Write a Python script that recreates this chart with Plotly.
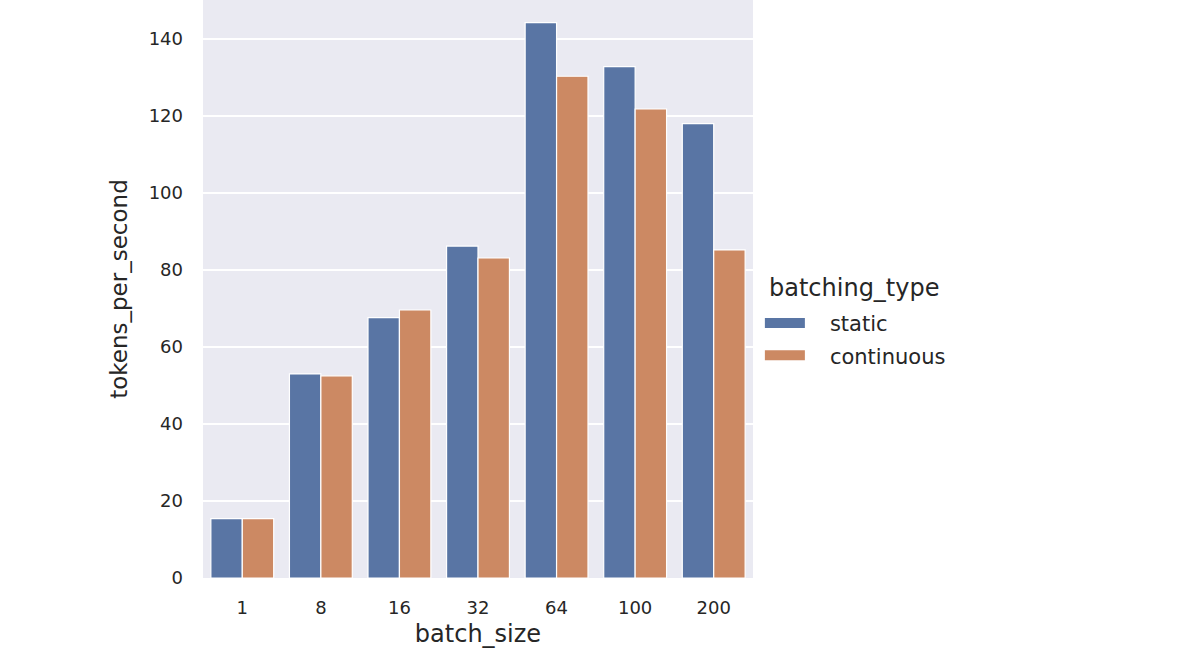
import plotly.graph_objects as go

# data
batch_sizes = ['1', '8', '16', '32', '64', '100', '200']
static_tps = [15.4, 53.0, 67.6, 86.2, 144.2, 132.8, 118.0]
continuous_tps = [15.4, 52.5, 69.6, 83.1, 130.3, 121.8, 85.2]

series_names = ['static', 'continuous']
series_colors = ['#5975A4', '#CC8963']  # seaborn deep, desaturated like barplot

fig = go.Figure()

for i, (name, vals) in enumerate(zip(series_names, [static_tps, continuous_tps])):
    fig.add_trace(go.Bar(
        x=batch_sizes,
        y=vals,
        name=name,
        legendgroup=name,
        showlegend=False,
        marker=dict(color=series_colors[i], line=dict(color='white', width=1.2)),
    ))
    # wide flat patch for the legend, like the seaborn one
    fig.add_trace(go.Scatter(
        x=[None], y=[None],
        mode='lines',
        name='\u00a0\u00a0\u00a0' + name,  # nbsp pads the gap after the patch
        legendgroup=name,
        line=dict(color=series_colors[i], width=11),
    ))

font_family = 'DejaVu Sans'
text_color = '#262626'

fig.update_layout(
    width=1200,
    height=648,
    margin=dict(l=203, r=447, t=0, b=70),
    paper_bgcolor='white',
    plot_bgcolor='#EAEAF2',
    font=dict(family=font_family, color=text_color, size=18),
    barmode='group',
    bargap=0.2,
    bargroupgap=0,
    showlegend=True,
    legend=dict(
        font=dict(size=21),
        x=1.0125,
        xanchor='left',
        y=0.476,
        yanchor='top',
        tracegroupgap=2,
        itemwidth=40,
        bgcolor='rgba(0,0,0,0)',
    ),
    annotations=[dict(
        text='batching_type',
        x=1.025, xref='paper', xanchor='left',
        y=0.502, yref='paper', yanchor='middle',
        showarrow=False,
        font=dict(size=24),
    )],
    xaxis=dict(
        title=dict(text='batch_size', font=dict(size=24), standoff=15),
        automargin=False,
        showgrid=False,
        zeroline=False,
        ticks='',
        ticklabelstandoff=17,
        tickfont=dict(size=18),
    ),
    yaxis=dict(
        title=dict(text='tokens_per_second', font=dict(size=23), standoff=14),
        automargin=False,
        range=[0, 150.1],
        tickvals=[0, 20, 40, 60, 80, 100, 120, 140],
        gridcolor='white',
        gridwidth=1.5,
        zeroline=False,
        ticks='',
        ticklabelstandoff=19,
        tickfont=dict(size=18),
    ),
)

# drop the default 8px body margin so the figure sits at the page corner
fig.write_html("out.html", config={'displayModeBar': False},
               post_script="document.body.style.margin='0';")
